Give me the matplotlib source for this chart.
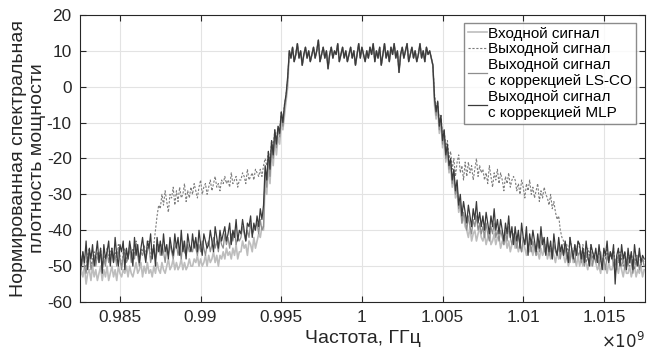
import numpy as np
import matplotlib
matplotlib.use("Agg")
import matplotlib.pyplot as plt
from matplotlib.ticker import FuncFormatter

# frequency grid of the PSD estimate, GHz
STEP_GHZ = 0.0001
LEFT_END_GHZ = 0.9954     # last bin of the lower skirt
BAND_START_GHZ = 0.9955   # first in-band bin
RIGHT_START_GHZ = 1.0045  # first bin of the upper skirt

# in-band PSD, dB (same for all signals within the drawing accuracy)
band_db = [
    10, 8, 11, 7, 9, 12, 8, 10, 6, 9,
    11, 8, 10, 7, 9, 11, 8, 10, 13, 7,
    9, 11, 8, 10, 5, 9, 11, 8, 10, 9,
    12, 7, 9, 11, 8, 10, 7, 9, 11, 8,
    10, 6, 9, 12, 8, 11, 9, 7, 10, 8,
    11, 9, 12, 7, 10, 8, 11, 6, 9, 12,
    8, 10, 7, 11, 9, 12, 8, 10, 4, 9,
    11, 8, 10, 12, 7, 9, 11, 8, 10, 7,
    9, 12, 8, 10, 7, 11, 9, 10, 8, 6,
]

# lower skirts, 0.9825 .. 0.9954 GHz
input_left = [
    -54, -51, -53, -50, -55, -52, -51, -54, -50, -53,
    -51, -54, -52, -50, -54, -51, -53, -50, -54, -52,
    -50, -53, -51, -54, -50, -52, -53, -51, -52, -50,
    -53, -50, -52, -53, -51, -49, -52, -51, -49, -53,
    -50, -52, -49, -52, -51, -53, -50, -52, -49, -51,
    -52, -49, -51, -52, -50, -48, -51, -50, -48, -51,
    -49, -51, -50, -48, -51, -49, -51, -50, -48, -50,
    -50, -48, -49, -47, -50, -48, -50, -49, -47, -50,
    -47, -49, -48, -46, -49, -47, -50, -47, -48, -46,
    -48, -45, -47, -46, -48, -45, -47, -44, -48, -46,
    -46, -43, -45, -44, -47, -43, -44, -46, -42, -45,
    -43, -41, -42, -39, -40, -26, -30, -22, -27, -18,
    -22, -15, -19, -14, -16, -10, -12, -8, -4, 0,
]
output_left = [
    -47, -50, -46, -49, -51, -47, -45, -50, -48, -46,
    -49, -46, -48, -45, -50, -47, -49, -45, -48, -46,
    -45, -48, -46, -49, -44, -47, -50, -46, -45, -48,
    -47, -44, -48, -45, -47, -43, -46, -49, -45, -46,
    -44, -47, -45, -43, -48, -46, -44, -40, -36, -33,
    -34, -30, -33, -29, -32, -35, -30, -31, -28, -33,
    -29, -32, -28, -31, -30, -27, -32, -29, -31, -28,
    -30, -27, -29, -31, -28, -26, -30, -28, -27, -30,
    -28, -26, -29, -27, -25, -28, -27, -29, -26, -27,
    -25, -27, -26, -28, -24, -27, -26, -25, -28, -26,
    -26, -24, -25, -27, -23, -26, -25, -24, -26, -23,
    -24, -25, -23, -25, -22, -20, -22, -18, -21, -15,
    -17, -12, -15, -11, -12, -7, -9, -5, -2, 2,
]
lsco_left = [
    -48, -51, -47, -50, -52, -48, -46, -51, -49, -47,
    -50, -47, -49, -46, -51, -48, -50, -46, -49, -47,
    -46, -49, -47, -50, -45, -48, -51, -47, -46, -49,
    -48, -45, -49, -46, -48, -44, -47, -50, -46, -47,
    -45, -48, -46, -44, -49, -47, -45, -48, -46, -44,
    -47, -44, -46, -49, -45, -47, -44, -46, -48, -45,
    -44, -47, -45, -48, -43, -46, -47, -44, -46, -45,
    -46, -43, -45, -47, -44, -46, -43, -45, -47, -44,
    -43, -46, -44, -42, -45, -43, -46, -42, -44, -45,
    -41, -44, -42, -45, -41, -43, -40, -44, -42, -43,
    -42, -39, -41, -43, -40, -42, -38, -41, -40, -39,
    -38, -41, -37, -40, -39, -24, -28, -20, -25, -16,
    -20, -13, -17, -12, -14, -8, -11, -6, -3, 2,
]
mlp_left = [
    -44, -50, -46, -49, -43, -51, -45, -48, -44, -50,
    -47, -43, -49, -45, -52, -44, -48, -46, -43, -50,
    -45, -49, -42, -47, -50, -44, -46, -43, -51, -45,
    -48, -43, -46, -50, -42, -47, -44, -49, -45, -42,
    -46, -49, -43, -45, -41, -48, -44, -50, -42, -46,
    -43, -47, -41, -46, -44, -48, -42, -45, -47, -41,
    -45, -42, -47, -40, -46, -43, -48, -41, -44, -46,
    -41, -45, -42, -46, -40, -44, -47, -41, -43, -45,
    -44, -40, -43, -46, -39, -42, -45, -40, -43, -41,
    -39, -43, -41, -38, -44, -40, -42, -37, -43, -40,
    -41, -37, -40, -43, -38, -39, -36, -42, -38, -40,
    -36, -39, -34, -37, -33, -22, -26, -18, -23, -15,
    -19, -12, -16, -11, -13, -7, -10, -5, -2, 3,
]

# upper skirts, 1.0045 .. 1.0175 GHz
input_right = [
    -5, -9, -6, -13, -10, -17, -14, -21, -18, -24,
    -22, -28, -25, -31, -29, -35, -33, -38, -36, -39,
    -40, -42, -39, -43, -41, -40, -43, -41, -39, -42,
    -43, -41, -44, -42, -40, -44, -43, -41, -44, -42,
    -42, -45, -43, -44, -42, -45, -43, -46, -44, -42,
    -45, -43, -46, -44, -46, -43, -45, -47, -44, -46,
    -45, -47, -44, -47, -46, -48, -45, -47, -46, -44,
    -48, -46, -48, -45, -47, -49, -46, -48, -47, -45,
    -47, -49, -47, -50, -48, -46, -49, -48, -50, -47,
    -50, -48, -50, -47, -49, -51, -48, -50, -49, -47,
    -49, -51, -50, -52, -48, -51, -50, -52, -49, -51,
    -51, -49, -52, -50, -52, -49, -51, -53, -50, -52,
    -52, -50, -53, -51, -50, -53, -51, -52, -50, -53,
    -51,
]
output_right = [
    -2, -6, -4, -10, -8, -14, -12, -17, -15, -20,
    -18, -23, -20, -25, -21, -19, -24, -22, -26, -21,
    -25, -21, -24, -22, -26, -23, -20, -25, -22, -24,
    -23, -26, -24, -27, -22, -25, -28, -24, -26, -23,
    -27, -24, -26, -29, -25, -27, -24, -28, -26, -25,
    -26, -29, -27, -30, -26, -28, -31, -27, -29, -26,
    -30, -28, -31, -29, -27, -32, -29, -31, -28, -30,
    -31, -33, -30, -34, -32, -35, -37, -36, -40, -42,
    -43, -46, -44, -47, -42, -45, -47, -44, -46, -43,
    -45, -48, -44, -47, -49, -45, -47, -44, -48, -46,
    -46, -49, -45, -48, -50, -46, -48, -45, -49, -47,
    -48, -45, -50, -47, -49, -46, -48, -50, -46, -49,
    -47, -50, -46, -49, -51, -47, -49, -46, -50, -48,
    -49,
]
lsco_right = [
    -4, -8, -5, -12, -9, -16, -13, -20, -17, -23,
    -21, -27, -24, -30, -28, -34, -32, -38, -35, -37,
    -40, -36, -39, -41, -37, -39, -36, -40, -38, -41,
    -39, -42, -38, -41, -43, -39, -41, -38, -42, -40,
    -43, -40, -42, -44, -40, -43, -39, -42, -44, -41,
    -42, -45, -41, -44, -46, -42, -44, -41, -45, -43,
    -46, -43, -45, -47, -43, -46, -44, -42, -46, -45,
    -44, -47, -45, -48, -44, -46, -47, -44, -48, -45,
    -47, -45, -48, -46, -49, -45, -47, -49, -45, -47,
    -46, -49, -47, -50, -46, -48, -49, -46, -50, -47,
    -49, -47, -50, -46, -49, -48, -51, -47, -49, -46,
    -47, -50, -48, -51, -47, -49, -50, -47, -51, -48,
    -50, -47, -49, -52, -48, -50, -47, -51, -49, -48,
    -50,
]
mlp_right = [
    -3, -7, -4, -11, -8, -15, -12, -19, -16, -22,
    -20, -26, -23, -29, -26, -33, -30, -36, -32, -35,
    -38, -33, -36, -39, -34, -37, -32, -38, -35, -39,
    -36, -40, -35, -38, -41, -36, -39, -34, -40, -37,
    -41, -37, -40, -43, -38, -41, -36, -42, -39, -44,
    -39, -43, -40, -45, -38, -42, -44, -39, -47, -41,
    -44, -40, -43, -46, -41, -45, -39, -44, -42, -47,
    -42, -46, -43, -48, -41, -45, -47, -42, -46, -44,
    -47, -43, -46, -49, -42, -45, -48, -44, -47, -43,
    -44, -48, -45, -49, -43, -47, -50, -44, -46, -48,
    -45, -49, -44, -48, -51, -45, -47, -43, -49, -46,
    -48, -44, -55, -47, -45, -50, -44, -48, -46, -51,
    -45, -49, -46, -51, -44, -48, -50, -45, -49, -47,
    -48,
]

labels = [
    "Входной сигнал",
    "Выходной сигнал",
    "Выходной сигнал\nс коррекцией LS-CO",
    "Выходной сигнал\nс коррекцией MLP",
]


def build_series(left, right):
    """Glue lower skirt, common band and upper skirt onto the frequency grid (Hz)."""
    n_l, n_b, n_r = len(left), len(band_db), len(right)
    f_left = LEFT_END_GHZ - STEP_GHZ * np.arange(n_l - 1, -1, -1)
    f_band = BAND_START_GHZ + STEP_GHZ * np.arange(n_b)
    f_right = RIGHT_START_GHZ + STEP_GHZ * np.arange(n_r)
    f = np.concatenate([f_left, f_band, f_right]) * 1e9
    p = np.concatenate([left, band_db, right]).astype(float)
    return f, p


plt.rcParams["font.family"] = ["Liberation Sans", "DejaVu Sans"]
plt.rcParams["axes.unicode_minus"] = False

fig = plt.figure(figsize=(6.47, 3.51), dpi=100)
ax = fig.add_axes([0.1236, 0.1396, 0.8733, 0.8177])

series = [
    (input_left, input_right, dict(color="#bdbdbd", lw=1.2, ls="-")),
    (output_left, output_right, dict(color="#7c7c7c", lw=0.8, ls=(0, (2, 1.5)))),
    (lsco_left, lsco_right, dict(color="#8e8e8e", lw=0.9, ls="-")),
    (mlp_left, mlp_right, dict(color="#3a3a3a", lw=0.9, ls="-")),
]
for (left, right, style), label in zip(series, labels):
    f, p = build_series(left, right)
    ax.plot(f, p, label=label, **style)

ax.set_xlim(0.98252e9, 1.01755e9)
ax.set_ylim(-60, 20)
ax.set_xticks(np.array([0.985, 0.99, 0.995, 1.0, 1.005, 1.01, 1.015]) * 1e9)
ax.set_yticks(np.arange(-60, 21, 10))
ax.xaxis.set_major_formatter(FuncFormatter(lambda v, pos: f"{v / 1e9:g}"))
ax.tick_params(direction="in", top=True, right=True, labelsize=12.4,
               length=4, width=0.8, colors="#262626", pad=6)
ax.grid(True, color="#e3e3e3", lw=0.8)
ax.set_axisbelow(True)
for sp in ax.spines.values():
    sp.set_color("#262626")
    sp.set_linewidth(0.8)

ax.set_xlabel("Частота, ГГц", fontsize=14, color="#262626", labelpad=3)
ax.set_ylabel("Нормированная спектральная\nплотность мощности", fontsize=14,
              color="#262626", linespacing=1.15)
ax.yaxis.set_label_coords(-0.06, 0.5)
ax.text(1.0, -0.1, r"$\times10^{9}$", transform=ax.transAxes, ha="right",
        va="top", fontsize=12, color="#262626")

leg = ax.legend(loc="upper right", bbox_to_anchor=(0.984, 0.972), fontsize=11,
                frameon=True, fancybox=False, handlelength=1.25, handletextpad=0.1,
                labelspacing=0.1, borderpad=0.25, borderaxespad=0.0)
leg.get_frame().set_edgecolor("#6e6e6e")
leg.get_frame().set_linewidth(1.0)

fig.savefig("out.png", dpi=100)
